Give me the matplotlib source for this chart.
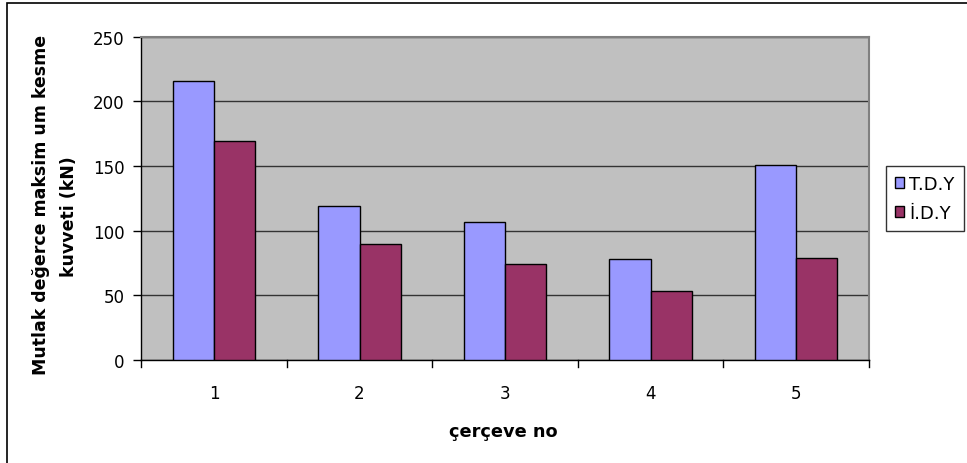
import matplotlib
matplotlib.use("Agg")
import matplotlib.pyplot as plt
import numpy as np
from matplotlib.patches import Rectangle

plt.rcParams['font.family'] = ['DejaVu Sans']

categories = ["1", "2", "3", "4", "5"]
tdy = [216, 119, 107, 78, 151]
idy = [169, 90, 74, 53, 79]
series_names = ["T.D.Y", "İ.D.Y"]
y_ticks = [0, 50, 100, 150, 200, 250]

fig = plt.figure(figsize=(9.67, 4.64), dpi=100)
ax = fig.add_axes([0.1461, 0.222, 0.7523, 0.6967])
ax.set_facecolor("#C0C0C0")

x = np.arange(len(categories))
w = 0.282
ax.bar(x - w / 2, tdy, width=w, color="#9999FF", edgecolor="#000000",
       linewidth=1.0, label=series_names[0], zorder=3)
ax.bar(x + w / 2, idy, width=w, color="#993366", edgecolor="#000000",
       linewidth=1.0, label=series_names[1], zorder=3)

ax.set_xlim(-0.5, len(categories) - 0.5)
ax.set_ylim(0, 250)
ax.set_yticks(y_ticks)
ax.set_yticklabels([str(v) for v in y_ticks], fontsize=12)
ax.set_xticks(x)
ax.set_xticklabels(categories, fontsize=12)
ax.tick_params(axis='x', length=0, pad=17)
ax.tick_params(axis='y', length=6, width=1, direction='out', pad=6)

# category separator ticks on the x axis
for b in np.arange(-0.5, len(categories) + 0.5, 1.0):
    ax.plot([b, b], [0, -0.022], transform=ax.get_xaxis_transform(),
            color="black", linewidth=1, clip_on=False, zorder=4)

ax.yaxis.grid(True, color="#333333", linewidth=1.0, zorder=1)
ax.set_axisbelow(True)

for side in ("top", "right"):
    ax.spines[side].set_color("#808080")
    ax.spines[side].set_linewidth(1.5)
for side in ("left", "bottom"):
    ax.spines[side].set_color("#000000")
    ax.spines[side].set_linewidth(1.0)

# y-axis title in two lines
fig.text(41 / 967, 1 - 205 / 464, "Mutlak değerce maksim um kesme",
         rotation=90, ha="center", va="center", fontsize=12.5,
         fontweight="bold")
fig.text(69 / 967, 1 - 217 / 464, "kuvveti (kN)",
         rotation=90, ha="center", va="center", fontsize=12.5,
         fontweight="bold")

# x-axis title
fig.text(503 / 967, 1 - 432 / 464, "çerçeve no", ha="center", va="center",
         fontsize=12.8, fontweight="bold")

leg = fig.legend(loc="upper left", bbox_to_anchor=(886 / 967, 1 - 167 / 464),
                 fontsize=13, frameon=True, fancybox=False,
                 handlelength=0.5, handleheight=0.5, handletextpad=0.3,
                 borderpad=0.5, labelspacing=0.6, borderaxespad=0)
leg.get_frame().set_edgecolor("black")
leg.get_frame().set_linewidth(1.0)

# outer chart border
fig.patches.append(Rectangle((7 / 967, -0.05), 1.2, (464 - 4) / 464 + 0.05,
                             transform=fig.transFigure, fill=False,
                             edgecolor="black", linewidth=1.2))

fig.savefig("out.png", dpi=100, facecolor="white")
